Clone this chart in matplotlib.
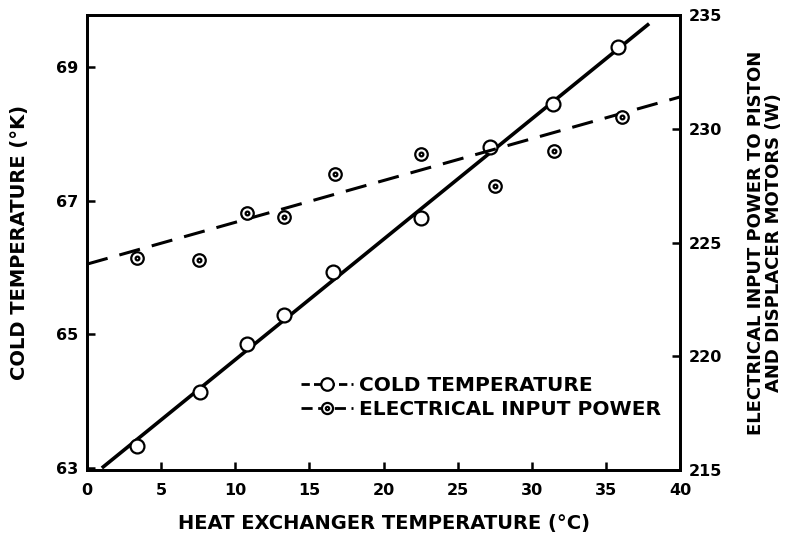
import numpy as np
import matplotlib
matplotlib.use("Agg")
import matplotlib.pyplot as plt
from matplotlib.path import Path
from matplotlib.lines import Line2D

# ---- data ----
heat_x_cold = [3.35, 7.6, 10.8, 13.3, 16.6, 22.5, 27.2, 31.4, 35.8]
cold_temp = [63.33, 64.14, 64.86, 65.29, 65.93, 66.74, 67.81, 68.45, 69.30]
cold_fit_x = [1.0, 37.9]
cold_fit_y = [63.0, 69.65]

heat_x_power = [3.4, 7.55, 10.8, 13.3, 16.7, 22.5, 27.5, 31.5, 36.1]
power_w = [224.3, 224.25, 226.3, 226.1, 228.0, 228.9, 227.5, 229.0, 230.5]
power_fit_x = [0.0, 40.0]
power_fit_y = [224.05, 231.4]

x_ticks = [0, 5, 10, 15, 20, 25, 30, 35, 40]
left_ticks = [63, 65, 67, 69]
right_ticks = [215, 220, 225, 230, 235]

plt.rcParams['font.family'] = ['DejaVu Sans']
plt.rcParams['font.weight'] = 'bold'
plt.rcParams['axes.labelweight'] = 'bold'
fig = plt.figure(figsize=(7.91, 5.43), dpi=100)
ax = fig.add_axes([0.110, 0.1344, 0.750, 0.838])
ax2 = ax.twinx()

dot_circle = Path.make_compound_path(Path.circle((0, 0), 1.0), Path.circle((0, 0), 0.3))

ax.plot(cold_fit_x, cold_fit_y, color='black', lw=2.6, solid_capstyle='butt')
ax.plot(heat_x_cold, cold_temp, linestyle='none', marker='o', ms=10,
        mfc='white', mec='black', mew=1.6, zorder=3)
ax2.plot(power_fit_x, power_fit_y, color='black', lw=2.2, dashes=(7, 4))
ax2.plot(heat_x_power, power_w, linestyle='none', marker=dot_circle, ms=9,
         mfc='white', mec='black', mew=1.6, zorder=3)

ax.set_xlim(0, 40)
ax.set_ylim(62.97, 69.78)
ax2.set_ylim(215, 235)
ax.set_xticks(x_ticks)
ax.set_yticks(left_ticks)
ax2.set_yticks(right_ticks)

for a in (ax, ax2):
    for s in a.spines.values():
        s.set_linewidth(2.0)
    a.tick_params(direction='in', length=6, width=1.8, labelsize=11.5)
ax.tick_params(axis='x', pad=9)
ax.tick_params(axis='y', pad=6)
ax2.tick_params(axis='y', pad=6)

ax.set_xlabel('HEAT EXCHANGER TEMPERATURE (°C)', fontsize=14, fontweight='bold',
              labelpad=12)
ax.set_ylabel('COLD TEMPERATURE (°K)', fontsize=14, fontweight='bold', labelpad=20)
ax2.set_ylabel('ELECTRICAL INPUT POWER TO PISTON\nAND DISPLACER MOTORS (W)',
               fontsize=13, fontweight='bold', labelpad=18, linespacing=1.0)

h1 = Line2D([], [], color='black', lw=2.0, dashes=(3, 1.5), marker='o', ms=9,
            mfc='white', mec='black', mew=1.6)
h2 = Line2D([], [], color='black', lw=2.0, dashes=(4, 2), marker=dot_circle, ms=8,
            mfc='white', mec='black', mew=1.6)
leg = ax.legend([h1, h2], ['COLD TEMPERATURE', 'ELECTRICAL INPUT POWER'],
                loc='center left', bbox_to_anchor=(0.33, 0.16), frameon=False,
                prop={'size': 14.5, 'weight': 'bold'}, handlelength=2.6,
                handletextpad=0.3, labelspacing=0.25)

fig.savefig('out.png', dpi=100)
